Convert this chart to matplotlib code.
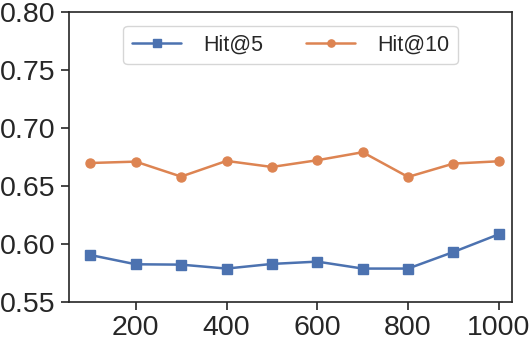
import matplotlib
matplotlib.use("Agg")
import matplotlib.pyplot as plt
import seaborn as sns

sns.set_theme(style="ticks")
plt.rcParams['font.family'] = ['Liberation Sans', 'DejaVu Sans']

# data
steps = [100, 200, 300, 400, 500, 600, 700, 800, 900, 1000]
hit5 = [0.5905, 0.5825, 0.5822, 0.5788, 0.5828, 0.5848, 0.5788, 0.5788, 0.5931, 0.6084]
hit10 = [0.6698, 0.6710, 0.6581, 0.6716, 0.6664, 0.6722, 0.6791, 0.6578, 0.6693, 0.6713]
yticks = [0.55, 0.60, 0.65, 0.70, 0.75, 0.80]
xticks = [200, 400, 600, 800, 1000]

fig = plt.figure(figsize=(5.32, 3.42), dpi=100)
ax = fig.add_axes([0.1297, 0.117, 0.8327, 0.848])

ax.plot(steps, hit5, marker='s', color='#4C72B0', lw=1.8, ms=6.5, label='Hit@5')
ax.plot(steps, hit10, marker='o', color='#DD8452', lw=1.8, ms=6.5, label='Hit@10')

ax.set_ylim(0.55, 0.80)
ax.set_xlim(53, 1029)
ax.set_yticks(yticks)
ax.set_yticklabels(['%.2f' % v for v in yticks])
ax.set_xticks(xticks)
ax.tick_params(labelsize=20.5, length=6, width=1.2, color='.15')
for s in ax.spines.values():
    s.set_linewidth(1.2)
    s.set_color('.15')

ax.legend(loc='upper center', ncol=2, fontsize=15.5, bbox_to_anchor=(0.5, 0.99),
          handlelength=2.3, handletextpad=1.0, columnspacing=2.0, markerscale=0.8)

fig.savefig('out.png', dpi=100)
